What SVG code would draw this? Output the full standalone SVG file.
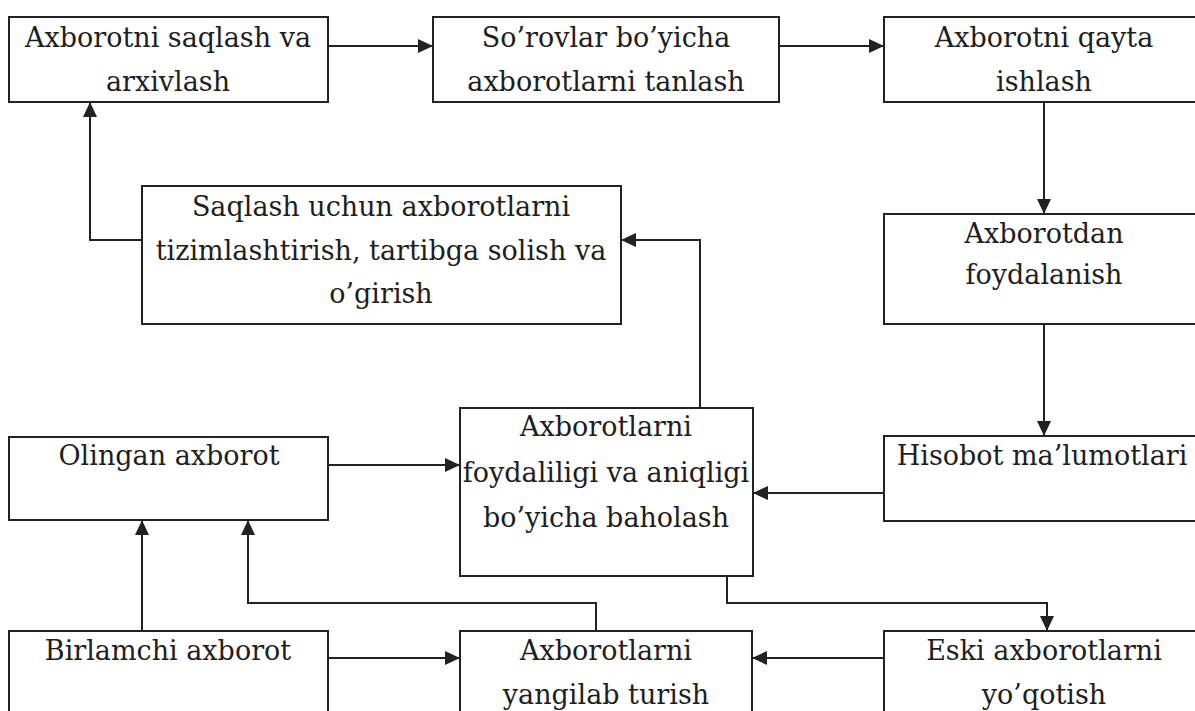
<svg xmlns="http://www.w3.org/2000/svg" width="1195" height="711" viewBox="0 0 1195 711">
  <style>
    .box { fill: #ffffff; stroke: #222222; stroke-width: 2; }
    .lbl { font-family: "DejaVu Serif", "Liberation Serif", serif; font-size: 27px; fill: #1e1e1e; text-anchor: middle; }
    .wire { fill: none; stroke: #222222; stroke-width: 2; marker-end: url(#head); }
  </style>
  <defs>
    <marker id="head" markerUnits="userSpaceOnUse" markerWidth="16" markerHeight="14" refX="15" refY="7" orient="auto">
      <path d="M0,0 L15,7 L0,14 Z" fill="#222222"/>
    </marker>
  </defs>
  <rect width="1195" height="711" fill="#ffffff"/>

  <g id="connectors">
    <path class="wire" d="M328,46 H433"/>
    <path class="wire" d="M779,46 H884"/>
    <path class="wire" d="M1044,102 V214"/>
    <path class="wire" d="M1044,324 V436"/>
    <path class="wire" d="M884,493 H753"/>
    <path class="wire" d="M700,408 V240 H621"/>
    <path class="wire" d="M142,240 H90 V102"/>
    <path class="wire" d="M328,465 H460"/>
    <path class="wire" d="M142,631 V520"/>
    <path class="wire" d="M596,631 V603 H248 V520"/>
    <path class="wire" d="M727,576 V603 H1047 V631"/>
    <path class="wire" d="M328,658 H460"/>
    <path class="wire" d="M884,658 H752"/>
  </g>

  <g id="saqlash-arxivlash">
    <rect class="box" x="9" y="17" width="319" height="85"/>
    <text class="lbl" x="168" y="47">Axborotni saqlash va</text>
    <text class="lbl" x="168" y="91">arxivlash</text>
  </g>

  <g id="sorovlar-tanlash">
    <rect class="box" x="433" y="17" width="346" height="85"/>
    <text class="lbl" x="606" y="47">So’rovlar bo’yicha</text>
    <text class="lbl" x="606" y="91">axborotlarni tanlash</text>
  </g>

  <g id="qayta-ishlash">
    <rect class="box" x="884" y="17" width="330" height="85"/>
    <text class="lbl" x="1044" y="47">Axborotni qayta</text>
    <text class="lbl" x="1044" y="91">ishlash</text>
  </g>

  <g id="tizimlashtirish">
    <rect class="box" x="142" y="186" width="479" height="138"/>
    <text class="lbl" x="381" y="216">Saqlash uchun axborotlarni</text>
    <text class="lbl" x="381" y="260">tizimlashtirish, tartibga solish va</text>
    <text class="lbl" x="381" y="303">o’girish</text>
  </g>

  <g id="foydalanish">
    <rect class="box" x="884" y="214" width="330" height="110"/>
    <text class="lbl" x="1044" y="243">Axborotdan</text>
    <text class="lbl" x="1044" y="284">foydalanish</text>
  </g>

  <g id="hisobot">
    <rect class="box" x="884" y="436" width="330" height="85"/>
    <text class="lbl" x="1042" y="465">Hisobot ma’lumotlari</text>
  </g>

  <g id="olingan">
    <rect class="box" x="9" y="437" width="319" height="83"/>
    <text class="lbl" x="169" y="465">Olingan axborot</text>
  </g>

  <g id="baholash">
    <rect class="box" x="460" y="408" width="293" height="168"/>
    <text class="lbl" x="606" y="436">Axborotlarni</text>
    <text class="lbl" x="606" y="482">foydaliligi va aniqligi</text>
    <text class="lbl" x="606" y="527">bo’yicha baholash</text>
  </g>

  <g id="birlamchi">
    <rect class="box" x="9" y="631" width="319" height="100"/>
    <text class="lbl" x="168" y="660">Birlamchi axborot</text>
  </g>

  <g id="yangilab">
    <rect class="box" x="460" y="631" width="292" height="100"/>
    <text class="lbl" x="606" y="660">Axborotlarni</text>
    <text class="lbl" x="606" y="704">yangilab turish</text>
  </g>

  <g id="eski">
    <rect class="box" x="884" y="631" width="330" height="100"/>
    <text class="lbl" x="1044" y="660">Eski axborotlarni</text>
    <text class="lbl" x="1044" y="704">yo’qotish</text>
  </g>
</svg>
